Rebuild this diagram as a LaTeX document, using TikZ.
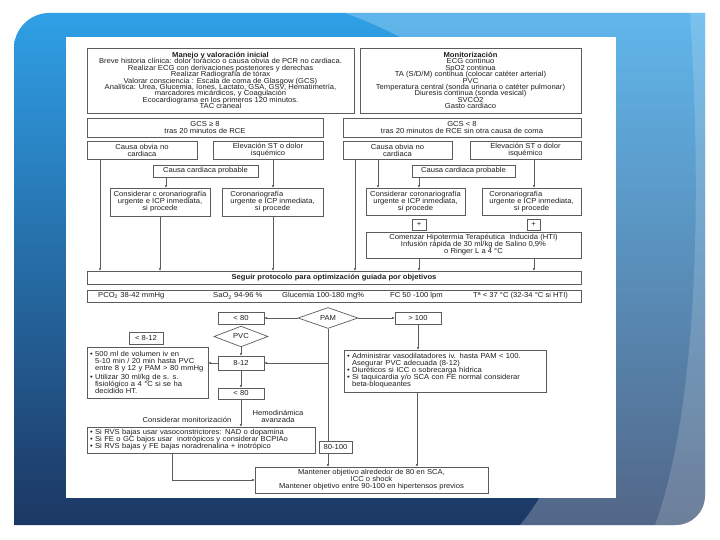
\documentclass[tikz,border=0pt]{standalone}
\usepackage{fontspec}
\setmainfont{Liberation Sans}[FakeStretch=1.06]
\usetikzlibrary{shapes.geometric,arrows.meta}
\definecolor{bd}{HTML}{5C5C5C}
\definecolor{tx}{HTML}{1E1E1E}
\definecolor{bgtop}{HTML}{2FA0E6}
\definecolor{bgmid}{HTML}{2070B8}
\definecolor{bgbot}{HTML}{1C3763}
\newcommand\dfs{\fontsize{7.2}{7}\selectfont\lineskiplimit=-20pt\lineskip=0pt}
\newcommand\dfst{\fontsize{7.2}{6.4}\selectfont\lineskiplimit=-20pt\lineskip=0pt}
\newcommand\bsp{\phantom{• }}
\newcommand\ml[1]{\mbox{#1}}
\tikzset{
  box/.style={draw=bd, line width=0.7pt, fill=white, inner sep=0pt, align=center, text=tx, font=\dfs},
  tbox/.style={box, font=\dfst},
  lbox/.style={box, align=left, inner xsep=3pt},
  dia/.style={draw=bd, line width=0.7pt, fill=white, shape=diamond, inner sep=0pt, text=tx, font=\dfs},
  lbl/.style={inner sep=0pt, text=tx, font=\dfs},
  arr/.style={draw=bd, line width=0.55pt, -{Triangle[length=2.6pt,width=2.2pt]}},
  ln/.style={draw=bd, line width=0.55pt},
}
\begin{document}
\begin{tikzpicture}[x=1pt,y=-1pt]
\useasboundingbox (0,0) rectangle (720,540);
\fill[white] (0,0) rectangle (720,540);
\begin{scope}
\path[clip] (14,525) -- (14,48) .. controls (14,29) and (30,13) .. (49,13) -- (705,13) -- (705,495) .. controls (705,512) and (692,525) .. (675,525) -- cycle;
\shade[top color=bgtop, middle color=bgmid, bottom color=bgbot] (14,13) rectangle (705,525);
\fill[white,opacity=0.24] (345,13) -- (705,13) -- (705,525) -- (520,525) .. controls (610,420) and (640,120) .. (345,13) -- cycle;
\fill[white,opacity=0.16] (690,13) -- (705,13) -- (705,525) -- (655,525) .. controls (690,430) and (705,250) .. (690,13) -- cycle;
\end{scope}
\fill[white] (66,37) rectangle (616,498);

% top boxes
\node[tbox, minimum width=267pt, minimum height=65pt] (manejo) at (220.5,80.5)
 {\textbf{Manejo y valoración inicial}\\Breve historia clínica: dolor torácico o causa obvia de PCR no cardiaca.\\Realizar ECG con derivaciones posteriores y derechas\\Realizar Radiografía de tórax\\Valorar consciencia : Escala de coma de Glasgow (GCS)\\Analítica: Urea, Glucemia, Iones, Lactato, GSA, GSV, Hematimetría,\\marcadores micárdicos, y Coagulación\\Ecocardiograma en los primeros 120 minutos.\\TAC craneal};
\node[tbox, minimum width=221pt, minimum height=65pt] (monit) at (470.5,80.5)
 {\textbf{Monitorización}\\ECG continuo\\SpO2 continua\\TA (S/D/M) continua (colocar catéter arterial)\\PVC\\Temperatura central (sonda urinaria o catéter pulmonar)\\Diuresis continua (sonda vesical)\\SVCO2\\Gasto cardiaco};

% left branch
\node[box, minimum width=236pt, minimum height=19pt] (gcs1) at (205,127.5) {GCS ≥ 8\\tras 20 minutos de RCE};
\node[box, minimum width=110pt, minimum height=18pt] (cob1) at (142,150) {Causa obvia no\\cardiaca};
\node[box, minimum width=110pt, minimum height=18pt] (est1) at (268,150) {Elevación ST o dolor\\isquémico};
\node[box, minimum width=105pt, minimum height=12pt] (ccp1) at (205.5,171) {Causa cardiaca probable};
\node[box, minimum width=100pt, minimum height=28pt] (con1) at (160,202) {Considerar c oronariografía\\urgente e ICP inmediata,\\si procede};
\node[box, minimum width=101pt, minimum height=28pt] (cor1) at (272.5,202) {\makebox[0pt][l]{Coronariografía}\phantom{urgente e ICP inmediata,}\\urgente e ICP inmediata,\\si procede};

% right branch
\node[box, minimum width=238pt, minimum height=19pt] (gcs2) at (462,127.5) {GCS < 8\\tras 20 minutos de RCE sin otra causa de coma};
\node[box, minimum width=109pt, minimum height=18pt] (cob2) at (397.5,150) {Causa obvia no\\cardiaca};
\node[box, minimum width=111pt, minimum height=18pt] (est2) at (525.5,150) {Elevación ST o dolor\\isquémico};
\node[box, minimum width=103pt, minimum height=12pt] (ccp2) at (463.5,171) {Causa cardiaca probable};
\node[box, minimum width=99pt, minimum height=27pt] (con2) at (415.5,201.5) {Considerar coronariografía\\urgente e ICP inmediata,\\si procede};
\node[box, minimum width=99pt, minimum height=27pt] (cor2) at (531.5,201.5) {\makebox[0pt][l]{Coronariografía}\phantom{urgente e ICP inmediata,}\\urgente e ICP inmediata,\\si procede};
\node[box, minimum width=14pt, minimum height=11pt] (plus1) at (419,224.5) {+};
\node[box, minimum width=13pt, minimum height=11pt] (plus2) at (533.5,224.5) {+};
\node[box, minimum width=215pt, minimum height=26pt] (hti) at (473.5,245) {Comenzar Hipotermia Terapéutica\ \ Inducida (HTI)\\Infusión rápida de 30 ml/kg de Salino 0,9\%\\o Ringer L a 4 °C};

% protocol
\node[box, minimum width=494pt, minimum height=13pt] (seg) at (334,277.5) {\textbf{Seguir protocolo para optimización guiada por objetivos}};
\node[box, minimum width=494pt, minimum height=12pt] (par) at (334,296) {};
\node[lbl, anchor=west] (p1) at (98,296) {PCO\textsubscript{2} 38-42 mmHg};
\node[lbl, anchor=west] (p2) at (213,296) {SaO\textsubscript{2} 94-96 \%};
\node[lbl, anchor=west] (p3) at (282,296) {Glucemia 100-180 mg\%};
\node[lbl, anchor=west] (p4) at (390,296) {FC 50 -100 lpm};
\node[lbl, anchor=west] (p5) at (473,296) {Tª < 37 °C (32-34 °C si HTI)};

% PAM part
\node[dia, minimum width=60pt, minimum height=20pt] (pam) at (328,318) {PAM};
\node[box, minimum width=46pt, minimum height=12pt] (lt80) at (241,318) {< 80};
\node[box, minimum width=46pt, minimum height=12pt] (gt100) at (418,318) {> 100};
\node[box, minimum width=34pt, minimum height=12pt] (lt812) at (146,338) {< 8-12};
\node[dia, minimum width=54pt, minimum height=17pt] (pvc) at (241,336.5) {PVC};
\node[box, minimum width=46pt, minimum height=14pt] (b812) at (241,363) {8-12};
\node[lbox, minimum width=121pt, minimum height=51pt, text width=115pt] (bul) at (147.5,372.5)
 {\ml{• 500 ml de volumen iv en}\\\ml{\bsp 5-10 min / 20 min hasta PVC}\\\ml{\bsp entre 8 y 12 y PAM > 80 mmHg}\\[2pt]\ml{• Utilizar 30 ml/kg de s. s.}\\\ml{\bsp fisiológico a 4 °C si se ha}\\\ml{\bsp decidido HT.}};
\node[box, minimum width=46pt, minimum height=11pt] (lt80b) at (241,393.5) {< 80};
\node[lbox, minimum width=202pt, minimum height=42pt, text width=196pt] (adm) at (445,371)
 {\ml{• Administrar vasodilatadores iv. hasta PAM < 100.}\\\ml{\bsp Asegurar PVC adecuada (8-12)}\\\ml{• Diuréticos si ICC o sobrecarga hídrica}\\\ml{• Si taquicardia y/o SCA con FE normal considerar}\\\ml{\bsp beta-bloqueantes}};
\node[lbl] (cm) at (187,420) {Considerar monitorización};
\node[lbl, align=center] (ha) at (278,416) {Hemodinámica\\avanzada};
\node[lbox, minimum width=228pt, minimum height=26pt, text width=222pt] (rvs) at (201,440)
 {\ml{• Si RVS bajas usar vasoconstrictores: NAD o dopamina}\\\ml{• Si FE o GC bajos usar\ \ inotrópicos y considerar BCPIAo}\\\ml{• Si RVS bajas y FE bajas noradrenalina + inotrópico}};
\node[box, minimum width=33pt, minimum height=12pt] (r80) at (335.5,447) {80-100};
\node[box, minimum width=233pt, minimum height=26pt] (man) at (371.5,480)
 {Mantener objetivo alrededor de 80 en SCA,\\ICC o shock\\Mantener objetivo entre 90-100 en hipertensos previos};

% connectors upper
\draw[arr] (100,0 |- cob1.south) -- (100,0 |- seg.north);
\draw[arr] (166,0 |- ccp1.south) -- (166,0 |- con1.north);
\draw[arr] (160,0 |- con1.south) -- (160,0 |- seg.north);
\draw[arr] (273,0 |- est1.south) -- (273,0 |- cor1.north);
\draw[arr] (273,0 |- cor1.south) -- (273,0 |- seg.north);
\draw[arr] (355,0 |- cob2.south) -- (355,0 |- seg.north);
\draw[arr] (378,0 |- cob2.south) -- (378,0 |- con2.north);
\draw[arr] (419,0 |- ccp2.south) -- (419,0 |- con2.north);
\draw[arr] (534,0 |- est2.south) -- (534,0 |- cor2.north);
\draw[arr] (419,0 |- hti.south) -- (419,0 |- seg.north);
\draw[arr] (534,0 |- hti.south) -- (534,0 |- seg.north);

% connectors lower
\draw[arr] (pam.west) -- (lt80.east);
\draw[arr] (pam.east) -- (gt100.west);
\draw[arr] (gt100.south) -- (gt100.south |- adm.north);
\draw[arr] (417,0 |- adm.south) -- (417,0 |- man.north);
\draw[ln] (pam.south) -- (pam.south |- r80.north);
\draw[arr] (pam.south |- r80.south) -- (pam.south |- man.north);
\draw[arr] (pam.south |- b812.east) -- (b812.east);
\draw[arr] (pvc.south) -- (b812.north);
\draw[arr] (b812.west) -- (b812.west -| bul.east);
\draw[arr] (b812.south) -- (lt80b.north);
\draw[arr] (lt80b.south) -- (lt80b.south |- rvs.north);
\draw[arr] (172,0 |- rvs.south) |- (man.west);
\end{tikzpicture}
\end{document}
